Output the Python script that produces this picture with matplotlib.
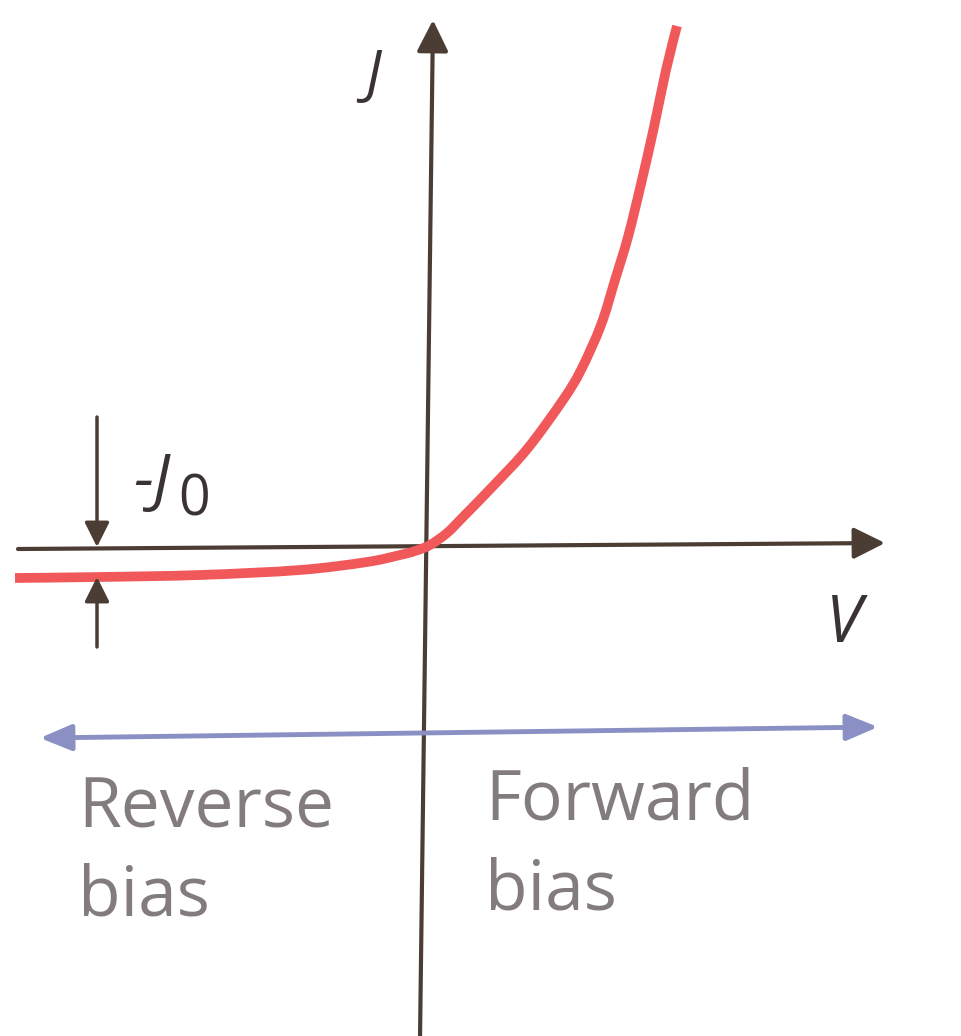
import numpy as np
import matplotlib.pyplot as plt
from matplotlib.patches import FancyArrowPatch, PathPatch
from matplotlib.path import Path

# diode J-V curve (origin at the axes crossing)
V = [-4.15, -3.30, -2.30, -1.30, -0.63, -0.30, -0.15, 0.0, 0.17, 0.33, 0.66, 0.98,
     1.33, 1.51, 1.71, 1.85, 1.98, 2.11, 2.24, 2.36, 2.47]
J = [-0.31, -0.30, -0.28, -0.23, -0.15, -0.08, -0.04, 0.02, 0.14, 0.30, 0.64, 0.99,
     1.47, 1.77, 2.22, 2.67, 3.10, 3.63, 4.20, 4.77, 5.21]

J0 = -0.30            # saturation level marked on the left
J0_at = -3.33         # where the -J0 marker sits
reverse_lines = ['Reverse', 'bias']
forward_lines = ['Forward', 'bias']

axis_col = '#4b3d33'
curve_col = '#f0585a'
bias_col = '#8a90c4'
text_col = '#827b80'
label_col = '#3a3334'

fig = plt.figure(figsize=(9.61, 10.36), dpi=100)
ax = fig.add_axes([0, 0, 1, 1])
ax.set_xlim(-4.30, 5.31)
ax.set_ylim(-4.89, 5.47)
ax.axis('off')

# axes with arrowheads
ax.add_patch(FancyArrowPatch((-4.12, -0.02), (4.55, 0.04), arrowstyle='-|>,head_length=12,head_width=6',
                             mutation_scale=1.6, color=axis_col, lw=3, shrinkA=0, shrinkB=0))
ax.add_patch(FancyArrowPatch((-0.10, -4.92), (0.03, 5.27), arrowstyle='-|>,head_length=12,head_width=6',
                             mutation_scale=1.6, color=axis_col, lw=3, shrinkA=0, shrinkB=0))

# the curve, drawn as a smooth path through the read points (Catmull-Rom -> Bezier)
pts = np.column_stack([V, J])
verts = [pts[0]]
codes = [Path.MOVETO]
for i in range(len(pts) - 1):
    p0 = pts[max(i - 1, 0)]
    p1 = pts[i]
    p2 = pts[i + 1]
    p3 = pts[min(i + 2, len(pts) - 1)]
    verts += [p1 + (p2 - p0) / 6, p2 - (p3 - p1) / 6, p2]
    codes += [Path.CURVE4] * 3
ax.add_patch(PathPatch(Path(verts, codes), fill=False, edgecolor=curve_col, lw=7,
                       capstyle='butt', zorder=3))

# -J0 marker arrows
ax.add_patch(FancyArrowPatch((J0_at, 1.30), (J0_at, 0.0), arrowstyle='-|>,head_length=10,head_width=5',
                             mutation_scale=1.5, color=axis_col, lw=2.5, shrinkA=0, shrinkB=0, zorder=4))
ax.add_patch(FancyArrowPatch((J0_at, -1.00), (J0_at, J0), arrowstyle='-|>,head_length=10,head_width=5',
                             mutation_scale=1.5, color=axis_col, lw=2.5, shrinkA=0, shrinkB=0, zorder=4))
ax.text(-2.97, 0.47, '-J', fontsize=46, style='italic', color=label_col, ha='left', va='baseline',
        family='Open Sans')
ax.text(-2.52, 0.32, '0', fontsize=40, color=label_col, ha='left', va='baseline', family='Open Sans')

# axis labels
ax.text(-0.57, 4.71, 'J', fontsize=42, style='italic', color=label_col, ha='center', va='center',
        family='Open Sans')
ax.text(4.14, -0.78, 'V', fontsize=47, style='italic', color=label_col, ha='center', va='center',
        family='Open Sans')

# reverse / forward bias arrow
ax.add_patch(FancyArrowPatch((-3.90, -1.91), (4.48, -1.80), arrowstyle='<|-|>,head_length=12,head_width=5',
                             mutation_scale=1.6, color=bias_col, lw=3.5, shrinkA=0, shrinkB=0))

for line, y in zip(reverse_lines, [-2.81, -3.68]):
    ax.text(-3.52, y, line, fontsize=50, color=text_col, ha='left', va='baseline', family='Open Sans')
for line, y in zip(forward_lines, [-2.73, -3.63]):
    ax.text(0.55, y, line, fontsize=50, color=text_col, ha='left', va='baseline', family='Open Sans')

fig.savefig('out.png', dpi=100, facecolor='white')
